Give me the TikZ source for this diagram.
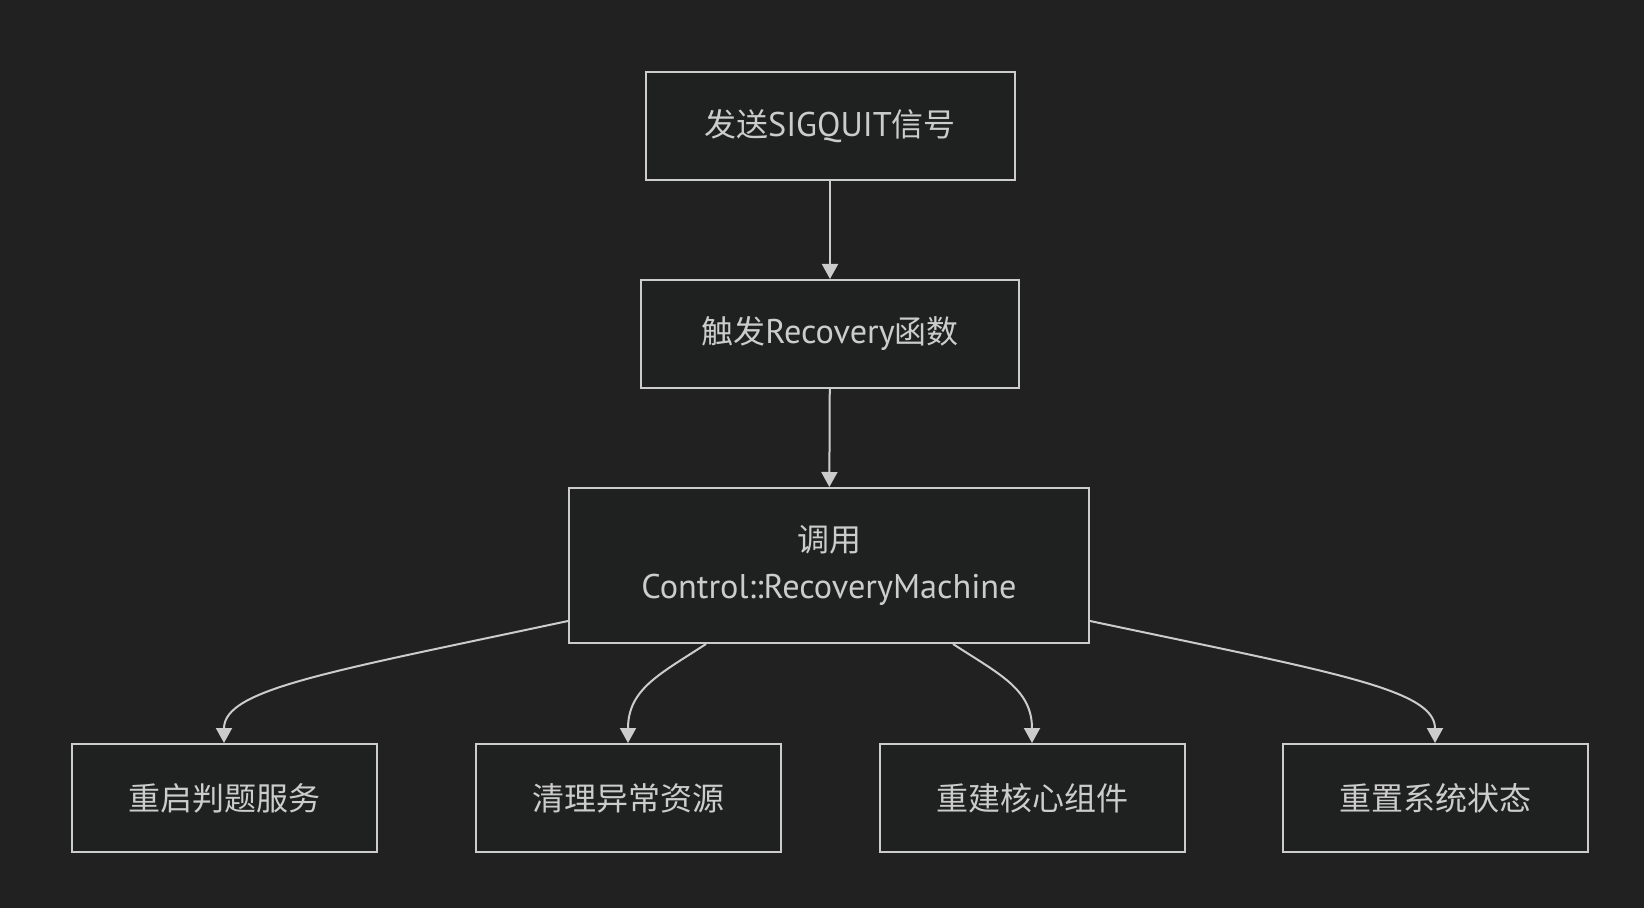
\documentclass[tikz,border=0pt]{standalone}
\usepackage{fontspec}
\setmainfont[Scale=1.07]{PT Sans}
\newfontfamily\cjk{Noto Sans CJK SC}
\usetikzlibrary{arrows.meta}
\definecolor{bgdark}{HTML}{212121}
\definecolor{boxfill}{HTML}{1F2020}
\definecolor{linegrey}{HTML}{CCCCCC}
\begin{document}
\begin{tikzpicture}[x=0.5pt, y=-0.5pt,
    box/.style={draw=linegrey, line width=1pt, fill=boxfill, text=linegrey,
      font=\fontsize{16}{23.5}\selectfont, inner sep=0pt, align=center},
    leaf/.style={box, minimum width=152.5pt, minimum height=54pt},
    flow/.style={draw=linegrey, line width=1pt, -{Triangle[length=7.5pt, width=8pt]}}]
    \fill[bgdark] (0,0) rectangle (1644,908);
    \useasboundingbox (0,0) rectangle (1644,908);
    \node[box, minimum width=184.5pt, minimum height=54pt] (sig) at (830,126) {{\cjk 发送}SIGQUIT{\cjk 信号}};
    \node[box, minimum width=189pt, minimum height=54pt] (rec) at (830,334) {{\cjk 触发}Recovery{\cjk 函数}};
    \node[box, minimum width=260pt, minimum height=77.5pt] (ctl) at (829,565.5) {{\cjk 调用}\\Control::RecoveryMachine};
    \node[leaf] (restart) at (224,798) {\cjk 重启判题服务};
    \node[leaf] (clean) at (628,798) {\cjk 清理异常资源};
    \node[leaf] (rebuild) at (1032,798) {\cjk 重建核心组件};
    \node[leaf] (reset) at (1435,798) {\cjk 重置系统状态};
    \draw[flow] (sig) -- (rec);
    \draw[flow] (rec) -- (ctl);
    \draw[flow] ([yshift=-27.75pt]ctl.west) .. controls +(-239,51) and +(0,-54) .. (restart.north);
    \draw[flow] ([xshift=-61.5pt]ctl.south) .. controls +(-46,30) and +(0,-54) .. (clean.north);
    \draw[flow] ([xshift=62pt]ctl.south) .. controls +(46,30) and +(0,-54) .. (rebuild.north);
    \draw[flow] ([yshift=-27.75pt]ctl.east) .. controls +(241,51) and +(0,-54) .. (reset.north);
  \end{tikzpicture}
\end{document}
